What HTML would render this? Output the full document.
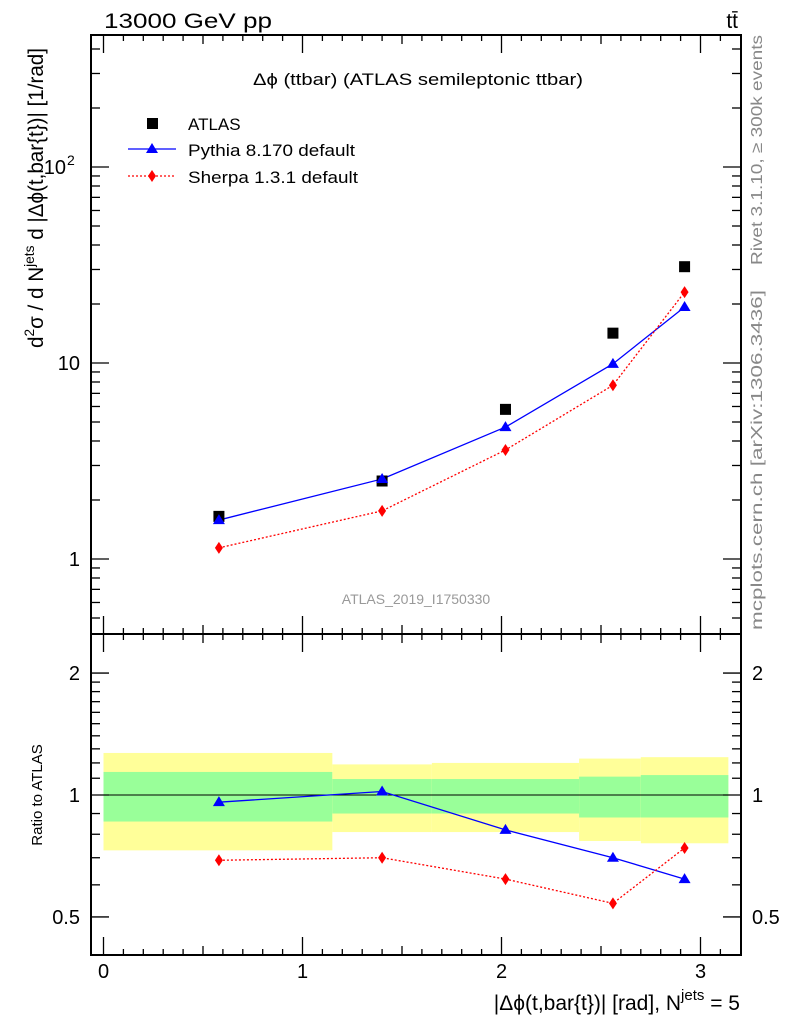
<!DOCTYPE html>
<html><head><meta charset="utf-8"><style>
body{margin:0;background:#fff}
svg{display:block;font-family:"Liberation Sans",sans-serif}
</style></head><body>
<svg id="c" width="786" height="1024" viewBox="0 0 786 1024">
<g id="bands"></g>
<g id="axes"></g>
<g id="series"></g>
<text x="104" y="28" font-size="21" textLength="168" lengthAdjust="spacingAndGlyphs">13000 GeV pp</text>
<text x="738" y="28" font-size="21" text-anchor="end">tt̄</text>
<text x="253" y="85" font-size="17" textLength="330" lengthAdjust="spacingAndGlyphs">Δϕ (ttbar) (ATLAS semileptonic ttbar)</text>
<text x="416" y="604" font-size="14" fill="#999" text-anchor="middle">ATLAS_2019_I1750330</text>
<text transform="translate(762,150) rotate(-90)" font-size="16" fill="#888" text-anchor="middle" textLength="230" lengthAdjust="spacingAndGlyphs">Rivet 3.1.10, ≥ 300k events</text>
<text transform="translate(762,460) rotate(-90)" font-size="16" fill="#888" text-anchor="middle" textLength="340" lengthAdjust="spacingAndGlyphs">mcplots.cern.ch [arXiv:1306.3436]</text>
<text transform="translate(43,348) rotate(-90)" font-size="21" textLength="300" lengthAdjust="spacingAndGlyphs">d<tspan dy="-9" font-size="14">2</tspan><tspan dy="9">σ / d N</tspan><tspan dy="-9" font-size="14">jets</tspan><tspan dy="9"> d |Δϕ(t,bar{t})| [1/rad]</tspan></text>
<text transform="translate(42,795) rotate(-90)" font-size="15" text-anchor="middle">Ratio to ATLAS</text>
<text x="740" y="1010" font-size="21" text-anchor="end">|Δϕ(t,bar{t})| [rad], N<tspan dy="-10" font-size="15">jets</tspan><tspan dy="10"> = 5</tspan></text>
<g>
<rect x="147" y="118" width="11" height="11" fill="#000"/>
<text x="188" y="130" font-size="17">ATLAS</text>
<line x1="128" y1="149" x2="176" y2="149" stroke="#00f" stroke-width="1.3"/>
<polygon points="152,143 158,153 146,153" fill="#00f"/>
<text x="188" y="156" font-size="17" textLength="167" lengthAdjust="spacingAndGlyphs">Pythia 8.170 default</text>
<line x1="128" y1="176" x2="176" y2="176" stroke="#f00" stroke-width="1.3" stroke-dasharray="2,2"/>
<polygon points="152,170 156,176 152,182 148,176" fill="#f00"/>
<text x="188" y="183" font-size="17" textLength="170" lengthAdjust="spacingAndGlyphs">Sherpa 1.3.1 default</text>
</g>
</svg>
<script>
const xs=[0.58,1.40,2.02,2.56,2.92];
const atlas=[1.65,2.5,5.8,14.2,31];
const pythia=[1.58,2.56,4.71,9.9,19.3];
const sherpa=[1.14,1.76,3.6,7.7,23];
const pythiaRatio=[0.96,1.02,0.82,0.70,0.62];
const sherpaRatio=[0.69,0.70,0.62,0.54,0.74];
const binEdges=[0,1.15,1.65,2.39,2.7,3.14];
const yellowHi=[1.27,1.19,1.2,1.23,1.24];
const yellowLo=[0.73,0.81,0.81,0.77,0.76];
const greenHi=[1.14,1.095,1.095,1.11,1.12];
const greenLo=[0.86,0.90,0.90,0.88,0.88];
const xTicks=[0,1,2,3];
const mainTicks=[1,10,100];
const mainTickLabels=["1","10","10"];
const ratioTicks=[0.5,1,2];
const ratioTickLabels=["0.5","1","2"];

const NS="http://www.w3.org/2000/svg";
const L=91,R=741,T1=35,B1=634,T2=634,B2=955;
const X=v=>103.5+v*199;
const Y1=v=>559-Math.log10(v)*196;
const Y2=v=>795-Math.log10(v)*405;
function mk(p,tag,a){const e=document.createElementNS(NS,tag);for(const k in a)e.setAttribute(k,a[k]);p.appendChild(e);return e;}
const bands=document.getElementById('bands'),axes=document.getElementById('axes'),ser=document.getElementById('series');
for(let i=0;i<yellowHi.length;i++){
 const x0=X(binEdges[i]),x1=X(binEdges[i+1]);
 const y=mk(bands,'rect',{x:x0,y:Y2(yellowHi[i]),width:x1-x0,height:Y2(yellowLo[i])-Y2(yellowHi[i]),fill:'#ffff99'});
 
 
 const g=mk(bands,'rect',{x:x0,y:Y2(greenHi[i]),width:x1-x0,height:Y2(greenLo[i])-Y2(greenHi[i]),fill:'#99ff99'});
 
 
}
mk(axes,'line',{x1:L,x2:R,y1:Y2(1),y2:Y2(1),stroke:'#000','stroke-width':1});
for(const [t,b] of [[T1,B1],[T2,B2]]){
 const f=mk(axes,'rect',{x:L,y:t,width:R-L,height:b-t,fill:'none',stroke:'#000','stroke-width':2});
 
 
}
for(const [t,b] of [[T1,B1],[T2,B2]]){
 for(let v=0;v<=3.15;v+=0.1){
  const vv=Math.round(v*10)/10;const major=Math.abs(vv-Math.round(vv))<1e-6;const len=major?18:(Math.abs(vv*2-Math.round(vv*2))<1e-6?9:6);
  const x=X(vv); if(x>R-1)continue;
  mk(axes,'line',{x1:x,x2:x,y1:b,y2:b-len,stroke:'#000','stroke-width':1.3});
  mk(axes,'line',{x1:x,x2:x,y1:t,y2:t+len,stroke:'#000','stroke-width':1.3});
 }
}
xTicks.forEach(v=>{const t=mk(axes,'text',{x:X(v),y:978,'font-size':20,'text-anchor':'middle'});t.textContent=v;
 
 });
for(let d=-1;d<=2;d++)for(let m=1;m<10;m++){const v=m*Math.pow(10,d);const y=Y1(v);if(y<T1||y>B1)continue;
 const len=m==1?18:9;
 mk(axes,'line',{x1:L,x2:L+len,y1:y,y2:y,stroke:'#000','stroke-width':1.3});
 mk(axes,'line',{x1:R,x2:R-len,y1:y,y2:y,stroke:'#000','stroke-width':1.3});}
mainTicks.forEach((v,i)=>{const t=mk(axes,'text',{x:v==100?66:80,y:Y1(v)+7,'font-size':20,'text-anchor':'end'});t.textContent=mainTickLabels[i];
 
 
 if(v==100){const s=mk(axes,'text',{x:67,y:Y1(v)-2,'font-size':14});s.textContent='2';
 
 }});
for(let v=0.4;v<=2.5;v+=(v<1?0.1:(v<2?0.1:0.5))){const vv=Math.round(v*10)/10;const y=Y2(vv);if(y<T2||y>B2)continue;
 const len=(vv==0.5||vv==1||vv==2)?18:9;
 mk(axes,'line',{x1:L,x2:L+len,y1:y,y2:y,stroke:'#000','stroke-width':1.3});
 mk(axes,'line',{x1:R,x2:R-len,y1:y,y2:y,stroke:'#000','stroke-width':1.3});}
ratioTicks.forEach((v,i)=>{for(const [x,a] of [[80,'end'],[752,'start']]){const t=mk(axes,'text',{x:x,y:Y2(v)+7,'font-size':20,'text-anchor':a});t.textContent=ratioTickLabels[i];
 
 }});
function line(vals,Y,color,dash,name){const p=mk(ser,'polyline',{points:xs.map((x,i)=>X(x)+','+Y(vals[i])).join(' '),fill:'none',stroke:color,'stroke-width':1.3,'stroke-dasharray':dash});
 
 }
function tri(x,y,name){const p=mk(ser,'polygon',{points:`${x},${y-6} ${x+6},${y+4} ${x-6},${y+4}`,fill:'#00f'});
 
 }
function dia(x,y,name){const p=mk(ser,'polygon',{points:`${x},${y-6} ${x+4},${y} ${x},${y+6} ${x-4},${y}`,fill:'#f00'});
 
 }
line(pythia,Y1,'#00f','none','pythia-line');
line(sherpa,Y1,'#f00','2,2','sherpa-line');
line(pythiaRatio,Y2,'#00f','none','pythia-ratio-line');
line(sherpaRatio,Y2,'#f00','2,2','sherpa-ratio-line');
xs.forEach((x,i)=>{
 const r=mk(ser,'rect',{x:X(x)-5.5,y:Y1(atlas[i])-5.5,width:11,height:11,fill:'#000'});
 
 
 tri(X(x),Y1(pythia[i]),'pythia-point');
 dia(X(x),Y1(sherpa[i]),'sherpa-point');
 tri(X(x),Y2(pythiaRatio[i]),'pythia-ratio-point');
 dia(X(x),Y2(sherpaRatio[i]),'sherpa-ratio-point');
});
</script>
</body></html>
